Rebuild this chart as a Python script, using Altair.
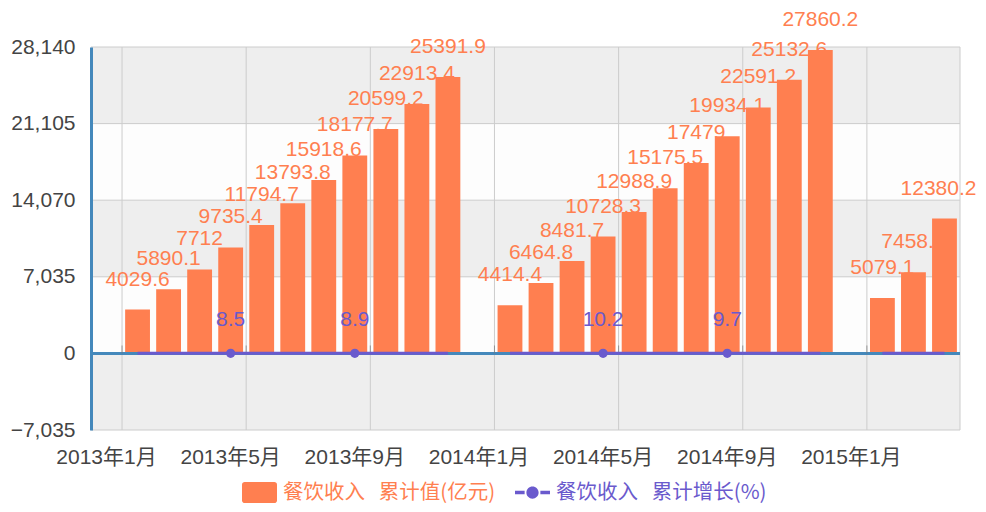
import altair as alt
import pandas as pd

# ---------------- data ----------------
months = [
    "2013年1月", "2013年2月", "2013年3月", "2013年4月", "2013年5月", "2013年6月", "2013年7月",
    "2013年8月", "2013年9月", "2013年10月", "2013年11月", "2013年12月",
    "2014年1月", "2014年2月", "2014年3月", "2014年4月", "2014年5月", "2014年6月", "2014年7月",
    "2014年8月", "2014年9月", "2014年10月", "2014年11月", "2014年12月",
    "2015年1月", "2015年2月", "2015年3月", "2015年4月",
]
revenue = [
    None, 4029.6, 5890.1, 7712, 9735.4, 11794.7, 13793.8, 15918.6, 18177.7, 20599.2, 22913.4, 25391.9,
    None, 4414.4, 6464.8, 8481.7, 10728.3, 12988.9, 15175.5, 17479, 19934.1, 22591.2, 25132.6, 27860.2,
    None, 5079.1, 7458.6, 12380.2,
]
growth = [
    None, 8.4, 8.4, 8.4, 8.5, 8.6, 8.7, 8.8, 8.9, 8.9, 9.0, 9.0,
    None, 10.0, 10.4, 10.3, 10.2, 10.1, 10.0, 9.9, 9.7, 9.7, 9.7, 9.7,
    None, 11.5, 11.4, 11.2,
]
growth_marked = ["2013年5月", "2013年9月", "2014年5月", "2014年9月"]
axis_months = ["2013年1月", "2013年5月", "2013年9月", "2014年1月", "2014年5月", "2014年9月", "2015年1月"]
grid_months = axis_months + ["2015年4月"]
y_ticks = [-7035, 0, 7035, 14070, 21105, 28140]
band_fill = ["#eeeeee", "#fdfdfd", "#eeeeee", "#fdfdfd", "#eeeeee"]
series = ["餐饮收入\u00a0\u00a0\u00a0累计值(亿元)", "餐饮收入\u00a0\u00a0\u00a0累计增长(%)"]

# ---------------- styles ----------------
CORAL = "#ff7f50"
SLATE = "#6a5acd"
AXIS_BLUE = "#4488bb"
GRID = "#cccccc"
NUM_FONT = "Liberation Sans, Arial, Noto Sans CJK SC"
CJK_FONT = "Noto Sans CJK SC, Liberation Sans"
PLOT_W, PLOT_H = 869, 383
PAD_INNER, PAD_OUTER = 0.2, 0.1
HALF_GAP = PLOT_W / len(months) * PAD_INNER / 2  # from band end to the boundary


def fmt(v):
    return None if v is None else f"{v:g}"


df = pd.DataFrame({
    "month": months,
    "revenue": revenue,
    "growth": growth,
    "rev_label": [fmt(v) for v in revenue],
    "gr_label": [fmt(v) for v in growth],
    "year": [m[:4] for m in months],
})
bars_df = df.dropna(subset=["revenue"])
edge_df = bars_df[bars_df["month"] == months[-1]]      # last label, kept inside the canvas
inner_df = bars_df[bars_df["month"] != months[-1]]
line_df = df.dropna(subset=["growth"])
mark_df = line_df[line_df["month"].isin(growth_marked)]
bands_df = pd.DataFrame({"lo": y_ticks[:-1], "hi": y_ticks[1:], "fill": band_fill})
hgrid_df = pd.DataFrame({"v": y_ticks})
zero_df = pd.DataFrame({"v": [0]})
vgrid_df = pd.DataFrame({"month": grid_months})
tick_df = pd.DataFrame({"month": axis_months, "v": [0] * len(axis_months)})
legend_df = pd.DataFrame({"series": series})

x_scale = alt.Scale(domain=months, paddingInner=PAD_INNER, paddingOuter=PAD_OUTER)
x_axis = alt.Axis(title=None, values=axis_months, labelAngle=0, domain=False, ticks=False,
                  grid=False, labelFont=NUM_FONT, labelFontSize=21, labelColor="#444",
                  labelPadding=16, labelOverlap=False, labelLimit=0)
y_scale = alt.Scale(domain=[y_ticks[0], y_ticks[-1]], nice=False, zero=False)
y_axis = alt.Axis(title=None, values=y_ticks, format=",.0f", grid=False, ticks=False,
                  domainColor=AXIS_BLUE, domainWidth=3, labelFont=NUM_FONT, labelFontSize=21,
                  labelColor="#444", labelPadding=16, zindex=1)


def X(**kw):
    return alt.X("month:O", scale=x_scale, axis=x_axis, sort=months, **kw)


def Y(field):
    return alt.Y(field, scale=y_scale, axis=y_axis)


bands = alt.Chart(bands_df).mark_rect().encode(
    x=alt.value(0), x2=alt.value("width"),
    y=Y("lo:Q"), y2="hi:Q",
    color=alt.Color("fill:N", scale=None),
)
hgrid = alt.Chart(hgrid_df).mark_rule(color=GRID, strokeWidth=1).encode(y=Y("v:Q"))
vgrid = alt.Chart(vgrid_df).mark_rule(color=GRID, strokeWidth=1, xOffset=HALF_GAP).encode(
    x=X(bandPosition=1))

label_style = dict(dy=-30, baseline="middle", align="center", font=NUM_FONT, fontSize=21, color=CORAL)
bar_labels = alt.Chart(inner_df).mark_text(**label_style).encode(
    x=X(), y=Y("revenue:Q"), text="rev_label:N")
edge_label = alt.Chart(edge_df).mark_text(dx=-6, **label_style).encode(
    x=X(), y=Y("revenue:Q"), text="rev_label:N")

bars = alt.Chart(bars_df).mark_bar(color=CORAL).encode(x=X(), y=Y("revenue:Q"))

zero = alt.Chart(zero_df).mark_rule(color=AXIS_BLUE, strokeWidth=3).encode(y=Y("v:Q"))

xticks = alt.Chart(tick_df).mark_tick(orient="vertical", size=8, thickness=1, yOffset=-4,
                                      xOffset=HALF_GAP, color="#777").encode(
    x=X(bandPosition=1), y=Y("v:Q"))

line = alt.Chart(line_df).mark_line(color=SLATE, strokeWidth=3).encode(
    x=X(), y=Y("growth:Q"), detail="year:N")
points = alt.Chart(mark_df).mark_point(filled=True, size=85, color=SLATE, opacity=1).encode(
    x=X(), y=Y("growth:Q"))
gr_labels = alt.Chart(mark_df).mark_text(
    dy=-33, baseline="middle", align="center", font=NUM_FONT, fontSize=21, color=SLATE
).encode(x=X(), y=Y("growth:Q"), text="gr_label:N")

rect_path = ("M-0.85,-0.6 H0.85 A0.15,0.15 0 0 1 1,-0.45 V0.45 A0.15,0.15 0 0 1 0.85,0.6 "
             "H-0.85 A0.15,0.15 0 0 1 -1,0.45 V-0.45 A0.15,0.15 0 0 1 -0.85,-0.6 Z")
line_path = ("M-1,-0.1 H-0.45 V0.1 H-1 Z M0.45,-0.1 H1 V0.1 H0.45 Z "
             "M-0.35,0 A0.35,0.35 0 1 1 0.35,0 A0.35,0.35 0 1 1 -0.35,0 Z")

legend = alt.Legend(
    orient="none", legendX=151, legendY=428, direction="horizontal", title=None,
    symbolSize=1225, symbolOpacity=1, symbolStrokeWidth=0,
    labelFont=CJK_FONT, labelFontSize=20.5, labelLimit=0, labelOffset=6,
    labelColor=alt.ExprRef(expr=f"datum.value == '{series[0]}' ? '{CORAL}' : '{SLATE}'"),
    columnPadding=19, padding=0,
)
legend_layer = alt.Chart(legend_df).mark_point(filled=True, opacity=0).encode(
    color=alt.Color("series:N", scale=alt.Scale(domain=series, range=[CORAL, SLATE]), legend=legend),
    shape=alt.Shape("series:N", scale=alt.Scale(domain=series, range=[rect_path, line_path]), legend=legend),
)

chart = alt.layer(
    bands, hgrid, vgrid, bar_labels, edge_label, bars, zero, xticks, line, points, gr_labels,
    legend_layer,
).properties(
    width=PLOT_W, height=PLOT_H,
    padding={"left": 83, "top": 39, "right": 18, "bottom": 74},
    autosize=alt.AutoSizeParams(type="none"),
).configure_view(stroke=None)

chart.save("out.html", embed_options={"renderer": "svg", "actions": False})
